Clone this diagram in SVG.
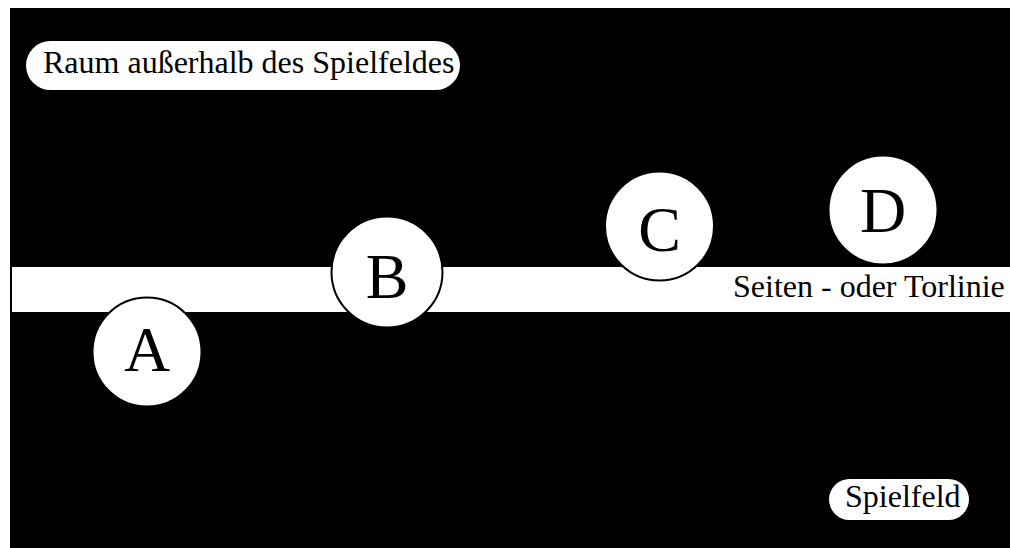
<svg xmlns="http://www.w3.org/2000/svg" width="1010" height="548" viewBox="0 0 1010 548">
<style>
.lbl{font-family:"Liberation Serif","Times New Roman",serif;fill:#000}
.big{font-size:64px;text-anchor:middle}
.mid{font-size:32px}
.node circle{fill:#fff;stroke:#000;stroke-width:2}
.pill{fill:#fff}
</style>
<rect id="background" x="10" y="8" width="1000" height="540" fill="#000"/>
<g id="line">
<rect x="12" y="267" width="998" height="45" fill="#fff"/>
<text class="lbl mid" x="733" y="297">Seiten - oder Torlinie</text>
</g>
<g id="outside">
<rect class="pill" x="26" y="41" width="434" height="49" rx="24.5"/>
<text class="lbl mid" x="43" y="73">Raum außerhalb des Spielfeldes</text>
</g>
<g id="field">
<rect class="pill" x="829" y="479" width="140" height="41" rx="20.5"/>
<text class="lbl mid" x="845" y="507">Spielfeld</text>
</g>
<g id="connectors"></g>
<g id="A" class="node"><circle cx="147" cy="352" r="54.5"/><text class="lbl big" x="147" y="371">A</text></g>
<g id="B" class="node"><circle cx="387" cy="272" r="55.5"/><text class="lbl big" x="387" y="298">B</text></g>
<g id="C" class="node"><circle cx="659.5" cy="226" r="54.5"/><text class="lbl big" x="659.5" y="251">C</text></g>
<g id="D" class="node"><circle cx="883" cy="210" r="54.5"/><text class="lbl big" x="883" y="232">D</text></g>
</svg>
